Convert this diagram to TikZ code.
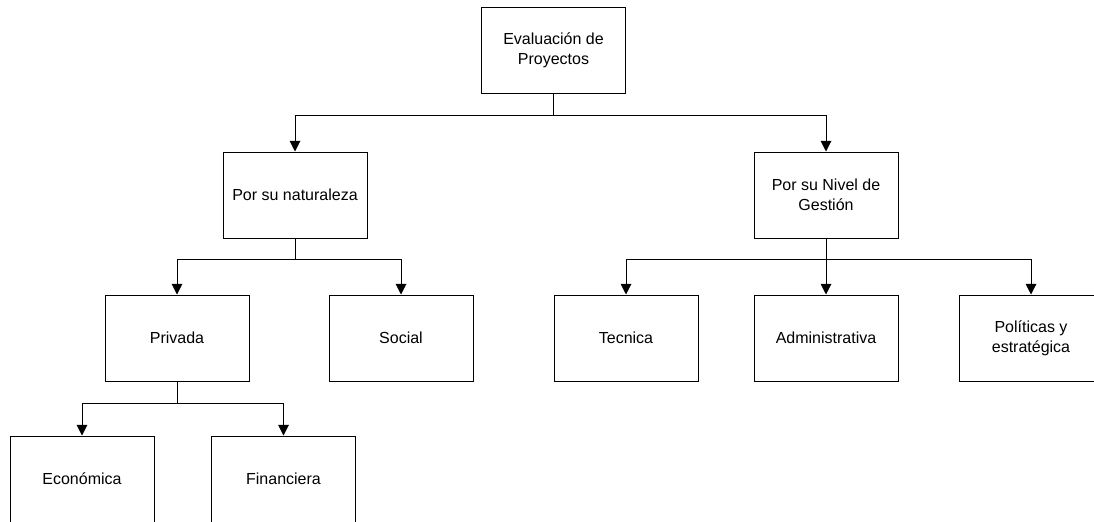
\documentclass[tikz,border=0pt]{standalone}
\usepackage{fontspec}
\setmainfont{Liberation Sans}
\usetikzlibrary{arrows.meta}

\tikzset{
  caja/.style={draw, line width=0.75pt, minimum width=108pt, minimum height=64.5pt,
    inner sep=2pt, align=center, font=\fontsize{12}{15}\selectfont},
  flecha/.style={line width=0.75pt, -{Triangle[length=8pt,width=8pt]}}
}

\begin{document}
\begin{tikzpicture}[x=0.75pt,y=0.75pt,yscale=-1,xscale=1]
        \useasboundingbox (0,0) rectangle (1094,521);
        \clip (0,0) rectangle (1094,521);

        % cajas
        \node[caja] (eval) at (553.5,50) {Evaluación de\\Proyectos};
        \node[caja] (nat) at (295,195) {Por su naturaleza};
        \node[caja] (gest) at (826,195) {Por su Nivel de\\Gestión};
        \node[caja] (priv) at (177,338) {Privada};
        \node[caja] (soc) at (401,338) {Social};
        \node[caja] (tec) at (626,338) {Tecnica};
        \node[caja] (adm) at (826,338) {Administrativa};
        \node[caja] (pol) at (1031,338) {Políticas y\\estratégica};
        \node[caja] (eco) at (82,479) {Económica};
        \node[caja] (fin) at (283.5,479) {Financiera};

        % conectores
        \draw[flecha] (eval.south) -- ++(0,22) -| (nat.north);
        \draw[flecha] (eval.south) -- ++(0,22) -| (gest.north);
        \draw[flecha] (nat.south) -- ++(0,21) -| (priv.north);
        \draw[flecha] (nat.south) -- ++(0,21) -| (soc.north);
        \draw[flecha] (gest.south) -- ++(0,21) -| (tec.north);
        \draw[flecha] (gest.south) -- (adm.north);
        \draw[flecha] (gest.south) -- ++(0,21) -| (pol.north);
        \draw[flecha] (priv.south) -- ++(0,22) -| (eco.north);
        \draw[flecha] (priv.south) -- ++(0,22) -| (fin.north);
    \end{tikzpicture}
\end{document}
